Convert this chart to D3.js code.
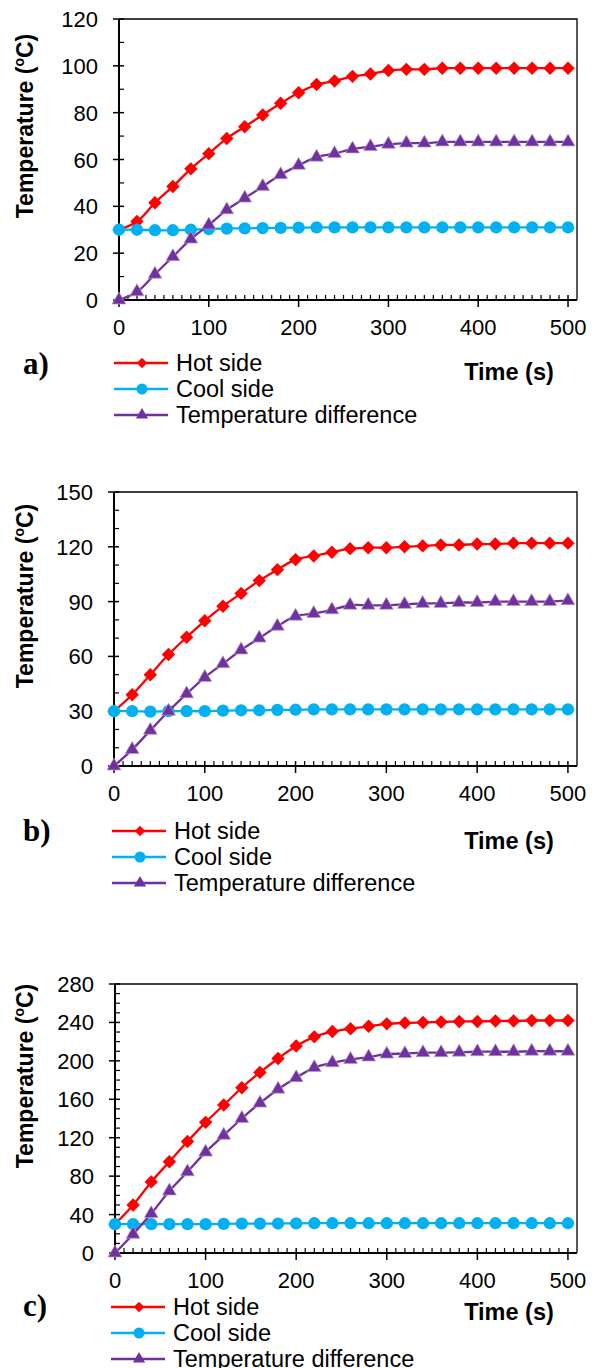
<!DOCTYPE html>
<html lang="en">
<head>
<meta charset="UTF-8">
<title>Temperature vs time</title>
<script src="https://d3js.org/d3.v7.min.js"></script>
<style>
    body { margin: 0; background: #fff; }
    svg text { font-family: Arial, "Liberation Sans", sans-serif; fill: #000; }
</style>
</head>
<body>
<svg id="chart" width="595" height="1368"></svg>
<script>
// data
var time = [0, 20, 40, 60, 80, 100, 120, 140, 160, 180, 200, 220, 240, 260, 280, 300, 320, 340, 360, 380, 400, 420, 440, 460, 480, 500];

var hotA  = [30, 33.5, 41.5, 48.5, 56, 62.5, 69, 74, 79, 84, 88.5, 92, 93.5, 95.5, 96.5, 98, 98.5, 98.5, 99, 99, 99, 99, 99, 99, 99, 99];
var coolA = [30, 30, 29.8, 29.8, 30, 30.3, 30.5, 30.6, 30.7, 30.8, 30.9, 31, 31, 31, 31, 31, 31, 31, 31, 31, 31, 31, 31, 31, 31, 31];
var diffA = [0, 3.5, 11, 18.5, 26, 32, 38.5, 43.5, 48.5, 53.5, 57.5, 61, 62.5, 64.5, 65.5, 66.5, 67, 67, 67.5, 67.5, 67.5, 67.5, 67.5, 67.5, 67.5, 67.5];

var hotB  = [30, 39, 50, 61, 70.5, 79.5, 87.5, 94.5, 101.5, 107.5, 113, 115, 117, 119, 119.5, 119.5, 120, 120.5, 121, 121, 121.5, 121.5, 122, 122, 122, 122];
var coolB = [30, 30, 29.8, 30, 30, 30, 30.3, 30.5, 30.5, 30.7, 30.8, 31, 31, 31, 31, 31, 31, 31, 31, 31, 31, 31, 31, 31, 31, 31];
var diffB = [0, 9, 19.5, 30, 39.5, 48.5, 56, 63.5, 70, 76.5, 82, 83.5, 85.5, 88, 88, 88, 88.5, 89, 89, 89.5, 89.5, 90, 90, 90, 90, 90.5];

var hotC  = [30, 50, 74, 95, 116, 136, 154, 172, 188, 202.5, 215.5, 225, 230.5, 233.5, 236, 238.5, 239.5, 240, 240.5, 241, 241, 241.5, 241.5, 242, 242, 242];
var coolC = [30, 30, 30, 30, 30, 30, 30.3, 30.5, 30.5, 30.7, 30.8, 31, 31, 31, 31, 31, 31, 31, 31, 31, 31, 31, 31, 31, 31, 31];
var diffC = [0, 19.5, 41, 64.5, 84.5, 105, 122.5, 140, 156, 170.5, 182.5, 193, 198, 201.5, 204, 207, 207.5, 208.5, 208.5, 209, 209.5, 209.5, 209.5, 210, 210, 210];

var seriesNames = ["Hot side", "Cool side", "Temperature difference"];
var xTicks = [0, 100, 200, 300, 400, 500];
var yTicksA = [0, 20, 40, 60, 80, 100, 120];
var yTicksB = [0, 30, 60, 90, 120, 150];
var yTicksC = [0, 40, 80, 120, 160, 200, 240, 280];

var colors = ["#FF0000", "#00B0F0", "#7030A0"];

// layout of each panel
var panels = [
    { label: "a)", series: [hotA, coolA, diffA], yTicks: yTicksA, left: 119, top: 19, bottom: 300, yLabelY: 126, legendY: 363, legendX: 114, timeY: 380, labelY: 374 },
    { label: "b)", series: [hotB, coolB, diffB], yTicks: yTicksB, left: 114, top: 492, bottom: 766, yLabelY: 596, legendY: 831, legendX: 112, timeY: 849, labelY: 841 },
    { label: "c)", series: [hotC, coolC, diffC], yTicks: yTicksC, left: 115, top: 984, bottom: 1253, yLabelY: 1076, legendY: 1307, legendX: 111, timeY: 1320, labelY: 1316 }
];

var svg = d3.select("#chart");
var right = 577;

function marker(i) {
    if (i == 0) return d3.symbol().type(d3.symbolSquare).size(90)();
    if (i == 1) return d3.symbol().type(d3.symbolCircle).size(118)();
    return d3.symbol().type(d3.symbolTriangle).size(82)();
}

function drawPanel(p) {
    var g = svg.append("g");
    var yMax = p.yTicks[p.yTicks.length - 1];

    var x = d3.scaleLinear().domain([0, 510]).range([p.left, right]);
    var y = d3.scaleLinear().domain([0, yMax]).range([p.bottom, p.top]);

    // frame (top and right)
    g.append("path")
        .attr("d", "M" + p.left + "," + p.top + "H" + right + "V" + p.bottom)
        .attr("fill", "none").attr("stroke", "#000").attr("stroke-width", 1.3);

    // minor ticks, inside
    var xMinor = d3.range(10, 501, 10).filter(function(v) { return v % 100 != 0; });
    g.selectAll(".xminor").data(xMinor).enter().append("line")
        .attr("x1", d => x(d)).attr("x2", d => x(d))
        .attr("y1", p.bottom).attr("y2", p.bottom - 5)
        .attr("stroke", "#000").attr("stroke-width", 1.2);
    var step = p.yTicks[1];
    var yMinor = d3.range(10, yMax, 10).filter(function(v) { return v % step != 0; });
    g.selectAll(".yminor").data(yMinor).enter().append("line")
        .attr("x1", p.left).attr("x2", p.left + 5)
        .attr("y1", d => y(d)).attr("y2", d => y(d))
        .attr("stroke", "#000").attr("stroke-width", 1.2);

    // major ticks, crossing
    g.selectAll(".xmajor").data(xTicks).enter().append("line")
        .attr("x1", d => x(d)).attr("x2", d => x(d))
        .attr("y1", p.bottom - 5).attr("y2", p.bottom + 7)
        .attr("stroke", "#000").attr("stroke-width", 1.5);
    g.selectAll(".ymajor").data(p.yTicks).enter().append("line")
        .attr("x1", p.left - 6).attr("x2", p.left + 5)
        .attr("y1", d => y(d)).attr("y2", d => y(d))
        .attr("stroke", "#000").attr("stroke-width", 1.5);

    // axis lines
    g.append("path")
        .attr("d", "M" + p.left + "," + p.top + "V" + p.bottom + "H" + right)
        .attr("fill", "none").attr("stroke", "#000").attr("stroke-width", 2);

    // tick labels
    g.selectAll(".xlab").data(xTicks).enter().append("text")
        .attr("x", d => x(d)).attr("y", p.bottom + 35)
        .attr("text-anchor", "middle").style("font-size", "22px")
        .text(d => d);
    g.selectAll(".ylab").data(p.yTicks).enter().append("text")
        .attr("x", p.left - 21).attr("y", d => y(d) + 8)
        .attr("text-anchor", "end").style("font-size", "22px")
        .text(d => d);

    // y title
    var yt = g.append("text")
        .attr("transform", "translate(33," + p.yLabelY + ") rotate(-90)")
        .attr("text-anchor", "middle")
        .style("font-size", "23px").style("font-weight", "bold");
    yt.append("tspan").text("Temperature (");
    yt.append("tspan").text("o").style("font-size", "14px").attr("dy", -9);
    yt.append("tspan").text("C)").attr("dy", 9);

    // series
    var line = d3.line()
        .x((d, i) => x(time[i]))
        .y(d => y(d))
        .curve(d3.curveCatmullRom.alpha(0.5));

    p.series.forEach(function(values, s) {
        g.append("path").datum(values)
            .attr("d", line)
            .attr("fill", "none")
            .attr("stroke", colors[s]).attr("stroke-width", 2.3);
        g.selectAll(".m" + s).data(values).enter().append("path")
            .attr("d", marker(s))
            .attr("transform", function(d, i) {
                return "translate(" + x(time[i]) + "," + y(d) + ")" + (s == 0 ? " rotate(45)" : "");
            })
            .attr("fill", colors[s])
            .attr("stroke", s == 2 ? "#b49ccc" : "none")
            .attr("stroke-width", 0.7);
    });

    // legend
    seriesNames.forEach(function(name, s) {
        var ly = p.legendY + s * 26;
        g.append("line")
            .attr("x1", p.legendX).attr("x2", p.legendX + 54)
            .attr("y1", ly).attr("y2", ly)
            .attr("stroke", colors[s]).attr("stroke-width", 2.3);
        var sz = s == 0 ? 55 : (s == 1 ? 95 : 65);
        g.append("path")
            .attr("d", s == 0 ? d3.symbol().type(d3.symbolSquare).size(sz)()
                     : s == 1 ? d3.symbol().type(d3.symbolCircle).size(sz)()
                     : d3.symbol().type(d3.symbolTriangle).size(sz)())
            .attr("transform", "translate(" + (p.legendX + 28) + "," + ly + ")" + (s == 0 ? " rotate(45)" : ""))
            .attr("fill", colors[s]);
        g.append("text")
            .attr("x", p.legendX + 62).attr("y", ly + 8)
            .style("font-size", "23.5px")
            .text(name);
    });

    // x title
    g.append("text")
        .attr("x", 509).attr("y", p.timeY)
        .attr("text-anchor", "middle")
        .style("font-size", "23.5px").style("font-weight", "bold")
        .text("Time (s)");

    // panel label
    g.append("text")
        .attr("x", 23).attr("y", p.labelY)
        .style("font-family", "'Liberation Serif', 'Times New Roman', serif")
        .style("font-size", "31px").style("font-weight", "bold")
        .text(p.label);
}

panels.forEach(drawPanel);
</script>
</body>
</html>
